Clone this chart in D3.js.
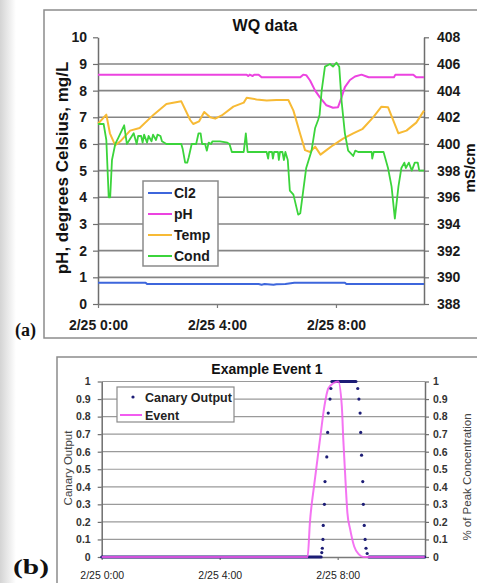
<!DOCTYPE html>
<html>
<head>
<meta charset="utf-8">
<script src="https://cdn.jsdelivr.net/npm/d3@7"></script>
<style>
body { margin: 0; background: #fff; }
svg { display: block; font-family: "Liberation Sans", Arial, sans-serif; }
</style>
</head>
<body>
<svg id="chart" width="477" height="583"></svg>
<script>
// ---------------- panel (a) data : [hours after 2/25 0:00, value] ----------------
var cl2 = [[0,0.8],[1.6,0.8],[1.65,0.75],[5.4,0.75],[5.5,0.72],[5.6,0.75],[5.9,0.72],[6.0,0.74],
  [6.3,0.75],[6.6,0.8],[8.3,0.8],[8.35,0.75],[10.96,0.75]];

var ph = [[0,8.6],[5.0,8.6],[5.05,8.55],[5.1,8.6],[5.2,8.55],[5.25,8.6],[5.4,8.6],[5.5,8.5],
  [6.8,8.5],[6.9,8.6],[7.0,8.58],[7.13,8.38],[7.3,8.0],[7.46,7.75],[7.68,7.45],[7.9,7.36],
  [8.07,7.38],[8.19,7.75],[8.3,8.13],[8.47,8.4],[8.64,8.53],[8.86,8.6],[9.03,8.53],[9.1,8.5],
  [9.95,8.5],[10.0,8.6],[10.6,8.6],[10.7,8.5],[10.96,8.5]];

var temp = [[0,6.76],[0.28,7.1],[0.4,6.4],[0.58,5.95],[0.75,6.1],[1.08,6.5],[1.4,6.6],[1.87,7.1],
  [2.3,7.5],[2.8,7.6],[3.1,6.9],[3.2,6.75],[3.4,6.85],[3.57,7.2],[3.77,7.0],[3.94,6.95],
  [4.16,7.07],[4.55,7.4],[4.9,7.55],[5.0,7.73],[5.33,7.67],[5.67,7.63],[6.0,7.65],[6.4,7.65],
  [6.57,7.25],[6.79,6.4],[6.96,5.77],[7.13,5.7],[7.3,5.9],[7.48,5.6],[7.68,5.77],[7.9,5.95],
  [8.24,6.2],[8.58,6.4],[8.9,6.57],[9.25,7.0],[9.53,7.4],[9.75,7.38],[10.1,6.4],[10.37,6.5],
  [10.7,6.8],[10.96,7.25]];

// conductivity in mS/cm (right axis)
var cond = [[0,401.5],[0.19,401.5],[0.28,400.3],[0.36,396.0],[0.41,396.0],[0.47,398.8],[0.58,400.0],
  [0.69,400.5],[0.88,401.4],[0.97,400.0],[1.2,400.8],[1.3,400.0],[1.35,400.6],[1.45,400.6],
  [1.5,400.1],[1.55,400.7],[1.65,400.1],[1.7,400.6],[1.8,400.2],[1.85,400.7],[1.95,400.3],
  [2.0,400.7],[2.1,400.6],[2.15,400.2],[2.3,400.0],[2.8,400.0],[2.85,399.6],[2.93,398.6],
  [3.0,398.6],[3.05,399.0],[3.15,400.0],[3.3,400.0],[3.38,400.8],[3.45,400.8],[3.5,400.0],
  [3.6,400.0],[3.66,399.5],[3.72,400.1],[3.8,400.0],[3.85,400.2],[4.1,400.2],[4.35,400.1],
  [4.42,400.0],[4.5,399.4],[4.9,399.4],[4.97,400.8],[5.03,399.4],[5.67,399.4],[5.72,398.9],
  [5.75,399.4],[5.85,399.4],[5.88,398.9],[5.92,399.4],[6.05,399.4],[6.08,398.8],[6.12,399.4],
  [6.2,399.4],[6.25,398.8],[6.3,399.4],[6.38,398.8],[6.45,396.5],[6.57,396.2],[6.73,394.7],
  [6.8,394.8],[6.9,396.5],[7.0,398.2],[7.18,399.5],[7.3,401.2],[7.4,401.8],[7.45,402.2],
  [7.52,404.0],[7.63,405.8],[7.8,406.0],[7.9,405.8],[8.02,406.1],[8.11,405.8],[8.19,403.2],
  [8.3,400.8],[8.41,399.5],[8.5,399.3],[8.58,399.1],[8.65,399.5],[8.75,399.4],[9.2,399.4],
  [9.22,398.9],[9.27,399.4],[9.6,399.4],[9.75,398.2],[9.87,396.8],[9.98,394.4],[10.1,396.8],
  [10.2,398.2],[10.3,398.6],[10.35,398.2],[10.45,398.6],[10.55,398.0],[10.65,398.6],
  [10.75,398.6],[10.8,398.0],[10.96,398.0]];

var seriesA = ["Cl2", "pH", "Temp", "Cond"];
var leftTicks = [0,1,2,3,4,5,6,7,8,9,10];
var rightTicks = [388,390,392,394,396,398,400,402,404,406,408];
var timeTicks = [0, 4, 8];
var hoursShown = 10.96;

// ---------------- panel (b) data ----------------
var eventConc = [[0,0],[6.98,0],[7.06,0.2],[7.21,0.42],[7.4,0.67],[7.55,0.86],[7.68,0.96],
  [7.85,0.99],[8.02,1.0],[8.14,0.86],[8.19,0.67],[8.25,0.48],[8.33,0.25],[8.42,0.16],
  [8.56,0.06],[8.72,0.015],[8.87,0],[10.95,0]];

// canary output: stretches where it sits flat, and the single points in between
var canaryRuns = [[0,7.44,0],[7.8,8.62,1],[9.06,10.95,0]];
var canaryDots = [[7.46,0.025],[7.48,0.05],[7.5,0.1],[7.51,0.18],[7.55,0.3],[7.57,0.43],
  [7.63,0.57],[7.66,0.71],[7.68,0.82],[7.74,0.9],[7.77,0.96],
  [8.68,0.96],[8.72,0.9],[8.76,0.82],[8.78,0.71],[8.81,0.58],[8.85,0.43],[8.87,0.3],
  [8.9,0.18],[8.93,0.1],[8.96,0.05],[9.0,0.02]];
var bTicks = [0,0.1,0.2,0.3,0.4,0.5,0.6,0.7,0.8,0.9,1];

// ---------------- styling ----------------
var colorA = {"Cl2": "#3d66dc", "pH": "#ec43e0", "Temp": "#f7ba35", "Cond": "#3bd43b"};
var eventColor = "#f25cf0";
var canaryColor = "#1d1d76";

var svg = d3.select("#chart");
var t0 = new Date(2000, 1, 25, 0, 0);
function toDate(h) { return new Date(+t0 + h * 3600e3); }
var fmt = d3.timeFormat("%-m/%-d %-H:%M");

// page background (light grey strip at the left edge)
var defs = svg.append("defs");
var grad = defs.append("linearGradient").attr("id", "edge");
grad.append("stop").attr("offset", "0").attr("stop-color", "#d4d4d4");
grad.append("stop").attr("offset", "1").attr("stop-color", "#ffffff");
svg.append("rect").attr("width", 477).attr("height", 583).attr("fill", "#fff");
svg.append("rect").attr("width", 16).attr("height", 583).attr("fill", "url(#edge)");

// ======================= panel (a) =======================
svg.append("rect")
  .attr("x", 44).attr("y", 10).attr("width", 500).attr("height", 328)
  .attr("fill", "#fff").attr("stroke", "#8c8c8c").attr("stroke-width", 1.5);

var xA = d3.scaleTime().domain([t0, toDate(hoursShown)]).range([98, 424]);
var yA = d3.scaleLinear().domain([0, 10]).range([304, 37.3]);
var yA2 = d3.scaleLinear().domain([388, 408]).range([304, 37.3]);

var gA = svg.append("g");

// gridlines
gA.selectAll("line.grid")
  .data(leftTicks.filter(function(v) { return v > 0 && v < 10; }))
  .enter().append("line")
  .attr("class", "grid")
  .attr("x1", 98).attr("x2", 424)
  .attr("y1", function(d) { return yA(d); })
  .attr("y2", function(d) { return yA(d); })
  .attr("stroke", "#858585").attr("stroke-width", 1.6);

function styleAxis(g, size, weight, fill, lineColor) {
  g.selectAll("text").attr("font-size", size).attr("font-weight", weight)
    .attr("fill", fill).attr("font-family", '"Liberation Sans", Arial, sans-serif');
  g.selectAll("path.domain").attr("stroke", lineColor).attr("stroke-width", 1.5);
  g.selectAll(".tick line").attr("stroke", lineColor).attr("stroke-width", 1.2);
}

gA.append("g").attr("transform", "translate(98,0)")
  .call(d3.axisLeft(yA).tickValues(leftTicks).tickSize(5).tickSizeOuter(0).tickPadding(6))
  .call(styleAxis, 14, "bold", "#1a1a1a", "#6e6e6e");

gA.append("g").attr("transform", "translate(424,0)")
  .call(d3.axisRight(yA2).tickValues(rightTicks).tickSize(5).tickSizeOuter(0).tickPadding(8))
  .call(styleAxis, 14, "bold", "#1a1a1a", "#6e6e6e");

gA.append("g").attr("transform", "translate(0,304)")
  .call(d3.axisBottom(xA).tickValues(timeTicks.map(toDate)).tickFormat(fmt)
    .tickSize(4).tickSizeOuter(0).tickPadding(12))
  .call(styleAxis, 14, "bold", "#1a1a1a", "#7a7a7a");

// series
var lineA = d3.line()
  .x(function(d) { return xA(toDate(d[0])); })
  .y(function(d) { return yA(d[1]); });
var lineCond = d3.line()
  .x(function(d) { return xA(toDate(d[0])); })
  .y(function(d) { return yA2(d[1]); });

var dataA = {"Cl2": cl2, "pH": ph, "Temp": temp, "Cond": cond};
seriesA.forEach(function(name) {
  gA.append("path")
    .datum(dataA[name])
    .attr("fill", "none")
    .attr("stroke", colorA[name])
    .attr("stroke-width", name == "Cond" ? 1.8 : 2)
    .attr("stroke-linejoin", "round")
    .attr("d", name == "Cond" ? lineCond : lineA);
});

// titles
svg.append("text").attr("x", 265).attr("y", 30.5).attr("text-anchor", "middle")
  .attr("font-size", 16).attr("font-weight", "bold").attr("fill", "#111").text("WQ data");
svg.append("text").attr("transform", "translate(68,168) rotate(-90)").attr("text-anchor", "middle")
  .attr("font-size", 17).attr("font-weight", "bold").attr("fill", "#111")
  .text("pH, degrees Celsius, mg/L");
svg.append("text").attr("transform", "translate(475,168) rotate(-90)").attr("text-anchor", "middle")
  .attr("font-size", 15).attr("font-weight", "bold").attr("fill", "#111").text("mS/cm");

// legend (a)
var legA = svg.append("g");
legA.append("rect").attr("x", 143).attr("y", 181).attr("width", 75).attr("height", 85)
  .attr("fill", "#fff").attr("stroke", "#8a8a8a").attr("stroke-width", 1.5);
seriesA.forEach(function(name, i) {
  var y = 193 + i * 21;
  legA.append("line").attr("x1", 148).attr("x2", 172).attr("y1", y).attr("y2", y)
    .attr("stroke", colorA[name]).attr("stroke-width", 2);
  legA.append("text").attr("x", 174).attr("y", y + 5).attr("font-size", 14)
    .attr("font-weight", "bold").attr("fill", "#1a1a1a").text(name);
});

svg.append("text").attr("x", 15).attr("y", 336)
  .attr("font-family", '"Liberation Serif", "Times New Roman", serif')
  .attr("font-size", 18).attr("font-weight", "bold").attr("fill", "#111").text("(a)");

// ======================= panel (b) =======================
svg.append("rect")
  .attr("x", 57).attr("y", 357).attr("width", 500).attr("height", 300)
  .attr("fill", "#fff").attr("stroke", "#8c8c8c").attr("stroke-width", 1.5);

var xB = d3.scaleTime().domain([t0, toDate(hoursShown)]).range([101.7, 425]);
var yB = d3.scaleLinear().domain([0, 1]).range([557, 381.5]);
var yB2 = d3.scaleLinear().domain([0, 1]).range([557, 381.5]);

var gB = svg.append("g");

gB.selectAll("line.grid")
  .data(bTicks.filter(function(v) { return v > 0; }))
  .enter().append("line")
  .attr("class", "grid")
  .attr("x1", 101.7).attr("x2", 425)
  .attr("y1", function(d) { return yB(d); })
  .attr("y2", function(d) { return yB(d); })
  .attr("stroke", "#9a9a9a").attr("stroke-width", 1.2);

gB.append("g").attr("transform", "translate(101.7,0)")
  .call(d3.axisLeft(yB).tickValues(bTicks).tickFormat(d3.format("~g"))
    .tickSize(4).tickSizeOuter(0).tickPadding(7))
  .call(styleAxis, 10.5, "bold", "#333", "#6e6e6e");

gB.append("g").attr("transform", "translate(425,0)")
  .call(d3.axisRight(yB2).tickValues(bTicks).tickFormat(d3.format("~g"))
    .tickSize(4).tickSizeOuter(0).tickPadding(4))
  .call(styleAxis, 10.5, "bold", "#333", "#6e6e6e");

gB.append("g").attr("transform", "translate(0,557)")
  .call(d3.axisBottom(xB).tickValues(timeTicks.map(toDate)).tickFormat(fmt)
    .tickSize(3).tickSizeOuter(0).tickPadding(12))
  .call(styleAxis, 10.5, "normal", "#222", "#7a7a7a");

// canary output flat stretches (dense points)
gB.selectAll("line.run")
  .data(canaryRuns)
  .enter().append("line")
  .attr("class", "run")
  .attr("x1", function(d) { return xB(toDate(d[0])); })
  .attr("x2", function(d) { return xB(toDate(d[1])); })
  .attr("y1", function(d) { return yB(d[2]); })
  .attr("y2", function(d) { return yB(d[2]); })
  .attr("stroke", canaryColor).attr("stroke-width", 3).attr("stroke-linecap", "round");

// event line
gB.append("path")
  .datum(eventConc)
  .attr("fill", "none")
  .attr("stroke", eventColor)
  .attr("stroke-opacity", 0.85)
  .attr("stroke-width", 2)
  .attr("stroke-linejoin", "round")
  .attr("d", d3.line()
    .curve(d3.curveMonotoneX)
    .x(function(d) { return xB(toDate(d[0])); })
    .y(function(d) { return yB2(d[1]); }));

gB.selectAll("circle.canary")
  .data(canaryDots)
  .enter().append("circle")
  .attr("class", "canary")
  .attr("cx", function(d) { return xB(toDate(d[0])); })
  .attr("cy", function(d) { return yB(d[1]); })
  .attr("r", 1.6)
  .attr("fill", canaryColor);

// titles
svg.append("text").attr("x", 267).attr("y", 373.5).attr("text-anchor", "middle")
  .attr("font-size", 14).attr("font-weight", "bold").attr("fill", "#111").text("Example Event 1");
svg.append("text").attr("transform", "translate(72,468) rotate(-90)").attr("text-anchor", "middle")
  .attr("font-size", 11.5).attr("fill", "#444").text("Canary Output");
svg.append("text").attr("transform", "translate(471,477) rotate(-90)").attr("text-anchor", "middle")
  .attr("font-size", 11.5).attr("fill", "#444").text("% of Peak Concentration");

// legend (b)
var legB = svg.append("g");
legB.append("rect").attr("x", 117).attr("y", 387).attr("width", 117).attr("height", 35)
  .attr("fill", "#fff").attr("stroke", "#8a8a8a").attr("stroke-width", 1.2);
legB.append("circle").attr("cx", 133).attr("cy", 397).attr("r", 1.6).attr("fill", canaryColor);
legB.append("text").attr("x", 145).attr("y", 401.5).attr("font-size", 12.5)
  .attr("font-weight", "bold").attr("fill", "#222").text("Canary Output");
legB.append("line").attr("x1", 120).attr("x2", 142).attr("y1", 415).attr("y2", 415)
  .attr("stroke", eventColor).attr("stroke-width", 2);
legB.append("text").attr("x", 145).attr("y", 419.5).attr("font-size", 12.5)
  .attr("font-weight", "bold").attr("fill", "#222").text("Event");

svg.append("text").attr("x", 13).attr("y", 574)
  .attr("font-family", '"Liberation Serif", "Times New Roman", serif')
  .attr("font-size", 20).attr("font-weight", "bold").attr("fill", "#111")
  .attr("textLength", 36).attr("lengthAdjust", "spacingAndGlyphs").text("(b)");
</script>
</body>
</html>
